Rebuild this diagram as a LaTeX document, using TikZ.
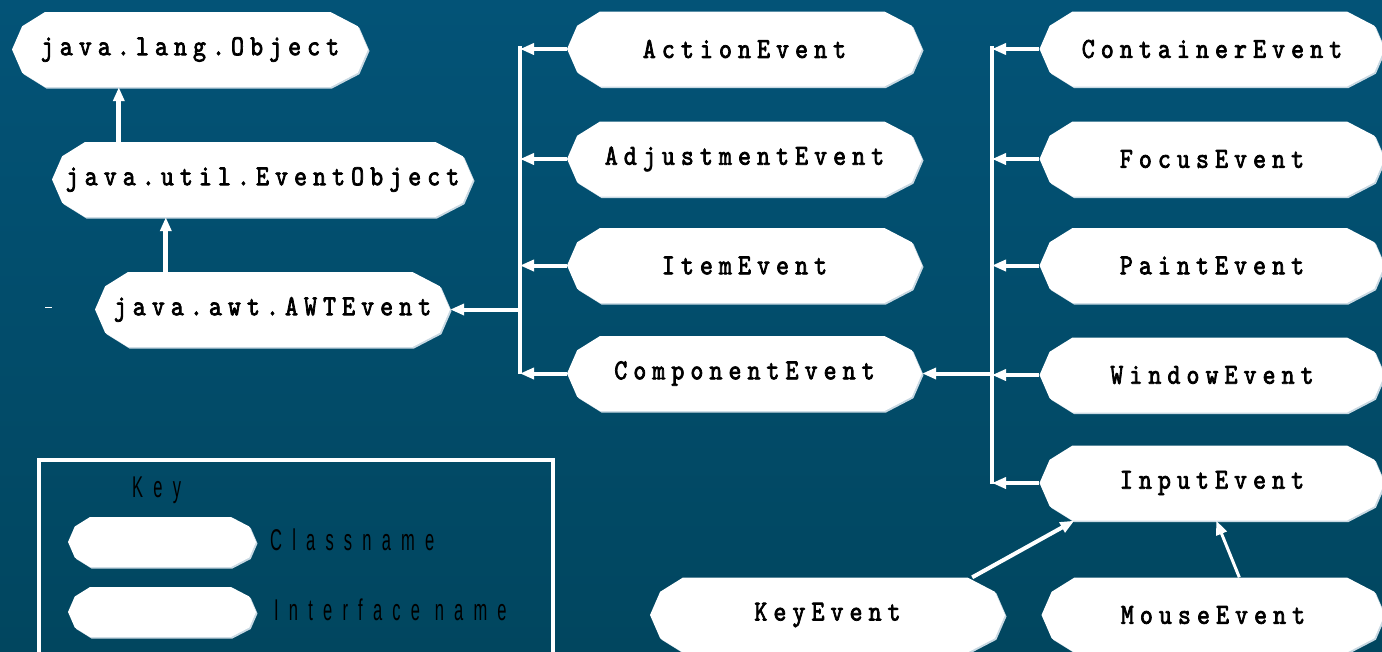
\documentclass[tikz,border=0pt]{standalone}
\usepackage{fontspec}
\usetikzlibrary{arrows.meta}
\newfontfamily\mainf{lmmono10-regular.otf}[FakeBold=2.5,FakeStretch=0.85,LetterSpace=21]
\newfontfamily\keyf{Liberation Sans}[FakeStretch=0.55,LetterSpace=34]
\definecolor{bgtop}{HTML}{035377}
\definecolor{bgbot}{HTML}{01465F}
\definecolor{octsh}{HTML}{C9D9E3}
\newcommand\octfill[5]{% colour, cx, cy, w, hh
  \fill[#1] ({#2-#4/2},{#3}) -- ({#2-#4/2+0.27*#5},{#3-0.62*#5}) -- ({#2-#4/2+0.88*#5},{#3-#5})
    -- ({#2+#4/2-#5},{#3-#5}) -- ({#2+#4/2-0.27*#5},{#3-0.62*#5}) -- ({#2+#4/2},{#3})
    -- ({#2+#4/2-0.27*#5},{#3+0.62*#5}) -- ({#2+#4/2-#5},{#3+#5}) -- ({#2-#4/2+0.88*#5},{#3+#5})
    -- ({#2-#4/2+0.27*#5},{#3+0.62*#5}) -- cycle;}
\newcommand\classnode[5]{% name, cx, cy, w, text
  \octfill{octsh}{#2+1.5}{#3+1.5}{#4}{37.5}
  \octfill{white}{#2}{#3}{#4}{37.5}
  \node[cls,minimum width=#4] (#1) at (#2,#3) {#5};}
\newcommand\keyshape[4]{% name, cx, cy, w
  \octfill{octsh}{#2+1.5}{#3+1.5}{#4}{25}
  \octfill{white}{#2}{#3}{#4}{25}
  \node[keybox,minimum width=#4] (#1) at (#2,#3) {};}
\begin{document}
\begin{tikzpicture}[x=1pt,y=-1pt,
  cls/.style={inner sep=0pt,minimum height=75pt,text=black,font=\mainf\fontsize{29}{31}\selectfont},
  keybox/.style={inner sep=0pt,minimum height=50pt},
  keytext/.style={inner sep=0pt,text=black,anchor=west,font=\keyf\fontsize{30}{32}\selectfont},
  gen/.style={draw=white,line width=4pt,-{Triangle[width=11pt,length=14pt,fill=white]}},
  bus/.style={draw=white,line width=3.5pt}]
\useasboundingbox (0,0) rectangle (1382,651);
\fill[top color=bgtop,bottom color=bgbot] (0,0) rectangle (1382,651);
% nodes
\classnode{obj}{190}{49.5}{356}{java.lang.Object}
\classnode{evo}{262.5}{179.5}{421}{java.util.EventObject}
\classnode{awt}{272.5}{309.5}{355}{java.awt.AWTEvent}
\classnode{act}{744.5}{49}{355}{ActionEvent}
\classnode{adj}{744.5}{159}{355}{AdjustmentEvent}
\classnode{item}{744.5}{265.5}{355}{ItemEvent}
\classnode{comp}{744.5}{373.5}{355}{ComponentEvent}
\classnode{cont}{1212}{49}{345}{ContainerEvent}
\classnode{foc}{1212}{159}{345}{FocusEvent}
\classnode{pnt}{1212}{265.5}{345}{PaintEvent}
\classnode{win}{1212}{375}{345}{WindowEvent}
\classnode{inp}{1212}{483}{345}{InputEvent}
\classnode{key}{827.5}{615}{355}{KeyEvent}
\classnode{mouse}{1213}{615}{343}{MouseEvent}
% key box
\draw[white,line width=4pt] (39,460) rectangle (553,656);
\node[keytext] (keytitle) at (132,490) {Key};
\keyshape{keyc}{162}{542}{188}
\keyshape{keyi}{162}{612}{188}
\node[keytext] (classname) at (270,540) {Classname};
\node[keytext] (ifname) at (274,610) {Interface name};
% small dash
\draw[white,line width=1pt] (45,307) -- (52,307);
% connectors
\draw[gen,line width=5pt] ([xshift=67]evo.north west) -- ([xshift=107]obj.south west);
\draw[gen,line width=5pt] ([xshift=71]awt.north west) -- ([xshift=114]evo.south west);
\coordinate (bL1) at (520,46);
\coordinate (bL2) at (520,373.5);
\draw[bus] (bL1) -- (bL2);
\draw[gen] (act.west) -- (act.west -| bL1);
\draw[gen] (adj.west) -- (adj.west -| bL1);
\draw[gen] (item.west) -- (item.west -| bL1);
\draw[gen] (comp.west) -- (comp.west -| bL1);
\draw[gen] (awt.east -| bL1) -- (awt.east);
\coordinate (bR1) at (992,46);
\coordinate (bR2) at (992,484);
\draw[bus] (bR1) -- (bR2);
\draw[gen] (comp.east -| bR1) -- (comp.east);
\draw[gen] (cont.west) -- (cont.west -| bR1);
\draw[gen] (foc.west) -- (foc.west -| bR1);
\draw[gen] (pnt.west) -- (pnt.west -| bR1);
\draw[gen] (win.west) -- (win.west -| bR1);
\draw[gen] (inp.west) -- (inp.west -| bR1);
\draw[gen] ([xshift=-33]key.north east) -- ([xshift=35]inp.south west);
\draw[gen,line width=3pt] ([xshift=198]mouse.north west) -- ([xshift=177]inp.south west);
\end{tikzpicture}
\end{document}
